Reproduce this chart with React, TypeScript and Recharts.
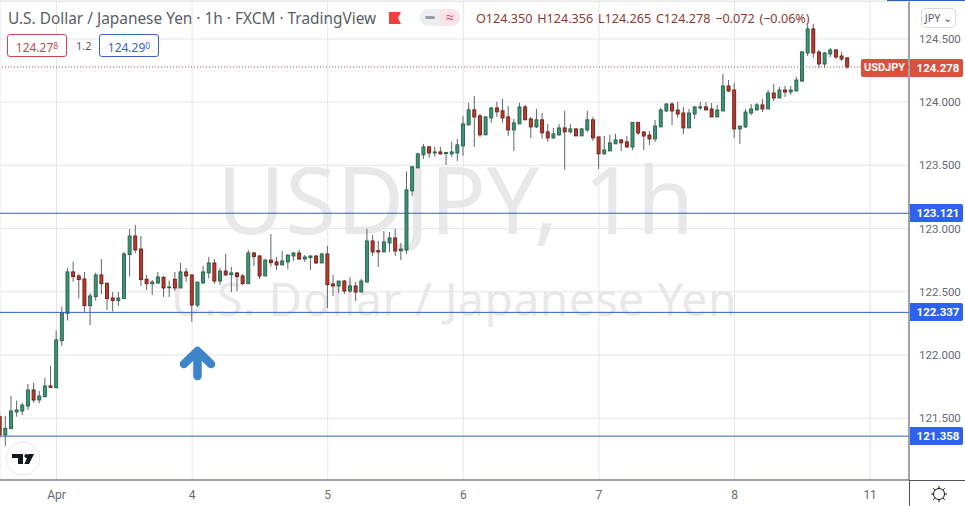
import React from "react";
import { ComposedChart, Bar, XAxis, YAxis, CartesianGrid, ReferenceLine } from "recharts";

const FIRST_HOUR = -10;
const opens = [121.512,121.367,121.417,121.549,121.557,121.596,121.723,121.644,121.670,121.755,
121.741,122.113,122.330,122.657,122.625,122.601,122.390,122.461,122.633,122.567,
122.451,122.430,122.446,122.794,122.941,122.838,122.599,122.564,122.569,122.614,
122.533,122.599,122.530,122.657,122.633,122.395,122.569,122.649,122.728,122.585,
122.664,122.635,122.649,122.625,122.564,122.807,122.783,122.625,122.751,122.736,
122.712,122.736,122.783,122.807,122.759,122.770,122.783,122.728,122.799,122.562,
122.546,122.585,122.506,122.546,122.498,122.577,122.902,122.825,122.815,122.886,
122.926,122.825,122.831,123.298,123.480,123.583,123.646,123.598,123.606,123.593,
123.591,123.598,123.654,123.820,123.939,123.891,123.741,123.875,123.954,123.931,
123.883,123.780,123.828,123.962,123.867,123.804,123.860,123.765,123.717,123.741,
123.796,123.765,123.788,123.733,123.780,123.860,123.725,123.591,123.614,123.670,
123.701,123.686,123.645,123.840,123.764,123.740,123.709,123.804,123.930,123.985,
123.938,123.914,123.796,123.906,123.954,123.962,123.946,123.883,123.930,124.128,
124.096,123.788,123.804,123.914,123.938,123.978,123.946,124.072,124.033,124.096,
124.080,124.088,124.167,124.389,124.579,124.397,124.302,124.381,124.413,124.365,124.350];
const closes = [121.367,121.420,121.557,121.565,121.604,121.723,121.644,121.676,121.755,121.744,
122.119,122.335,122.657,122.620,122.596,122.390,122.467,122.633,122.564,122.446,
122.430,122.451,122.799,122.941,122.831,122.596,122.564,122.577,122.617,122.530,
122.538,122.530,122.657,122.625,122.395,122.577,122.657,122.728,122.585,122.664,
122.633,122.649,122.620,122.564,122.807,122.778,122.625,122.751,122.730,122.712,
122.744,122.791,122.807,122.759,122.775,122.783,122.728,122.799,122.556,122.546,
122.585,122.506,122.546,122.498,122.585,122.902,122.815,122.815,122.894,122.926,
122.823,122.838,123.306,123.488,123.591,123.646,123.598,123.606,123.591,123.601,
123.606,123.662,123.828,123.939,123.883,123.741,123.883,123.954,123.923,123.875,
123.780,123.836,123.962,123.860,123.804,123.860,123.757,123.717,123.749,123.796,
123.765,123.788,123.733,123.788,123.860,123.717,123.591,123.622,123.678,123.701,
123.678,123.646,123.840,123.756,123.732,123.709,123.811,123.938,123.985,123.930,
123.906,123.796,123.914,123.962,123.962,123.938,123.883,123.938,124.128,124.088,
123.788,123.811,123.922,123.946,123.978,123.946,124.072,124.033,124.096,124.080,
124.096,124.175,124.397,124.579,124.389,124.302,124.389,124.413,124.357,124.341,124.278];
const highs = [121.550,121.517,121.676,121.639,121.623,121.770,121.781,121.715,121.821,121.916,
122.192,122.382,122.688,122.738,122.641,122.657,122.488,122.651,122.757,122.572,
122.498,122.498,122.815,122.997,123.028,122.941,122.633,122.593,122.657,122.625,
122.588,122.657,122.728,122.688,122.633,122.577,122.704,122.775,122.759,122.688,
122.799,122.696,122.657,122.641,122.831,122.815,122.791,122.757,122.957,122.775,
122.823,122.791,122.815,122.831,122.791,122.791,122.791,122.807,122.862,122.633,
122.585,122.593,122.617,122.577,122.601,122.997,122.949,122.902,122.981,122.973,
122.997,122.886,123.451,123.496,123.598,123.670,123.654,123.646,123.646,123.606,
123.686,123.709,123.891,123.994,124.049,123.907,123.891,123.962,124.002,124.026,
123.970,123.867,123.994,123.978,123.883,123.947,123.915,123.828,123.796,123.828,
123.931,123.828,123.796,123.796,123.931,123.883,123.725,123.733,123.741,123.749,
123.709,123.733,123.840,123.840,123.772,123.772,123.859,123.954,123.993,124.001,
124.001,123.962,123.946,123.970,124.001,124.001,123.993,123.978,124.223,124.175,
124.152,123.811,123.946,123.985,123.993,124.025,124.096,124.144,124.120,124.128,
124.128,124.199,124.405,124.610,124.618,124.413,124.397,124.428,124.421,124.397,124.356];
const lows = [121.340,121.280,121.417,121.512,121.525,121.565,121.623,121.618,121.665,121.741,
121.741,122.071,122.272,122.580,122.446,122.343,122.237,122.430,122.482,122.356,
122.343,122.388,122.446,122.620,122.804,122.546,122.514,122.475,122.562,122.459,
122.459,122.506,122.530,122.580,122.264,122.380,122.564,122.606,122.562,122.554,
122.625,122.498,122.506,122.554,122.564,122.704,122.601,122.625,122.699,122.672,
122.712,122.680,122.744,122.751,122.736,122.672,122.720,122.728,122.372,122.467,
122.490,122.482,122.490,122.427,122.498,122.572,122.783,122.696,122.815,122.815,
122.783,122.751,122.799,123.258,123.480,123.551,123.559,123.567,123.583,123.504,
123.567,123.535,123.575,123.820,123.646,123.725,123.741,123.836,123.883,123.836,
123.733,123.614,123.828,123.860,123.717,123.796,123.709,123.686,123.709,123.733,
123.464,123.749,123.733,123.733,123.765,123.693,123.472,123.583,123.614,123.670,
123.614,123.638,123.622,123.740,123.622,123.661,123.685,123.804,123.922,123.819,
123.875,123.748,123.796,123.867,123.938,123.938,123.883,123.883,123.930,124.080,
123.716,123.669,123.796,123.898,123.938,123.922,123.946,124.009,124.033,124.041,
124.057,124.088,124.160,124.365,124.349,124.270,124.270,124.357,124.341,124.326,124.265];

const priceTicks = [121.5, 122, 122.5, 123, 123.5, 124, 124.5];
const hourTicks = [0, 24, 48, 72, 96, 120, 144];
const hourLabels = ["Apr", "4", "5", "6", "7", "8", "11"];
const levels = [123.121, 122.337, 121.358];
const lastPrice = 124.278;

const rows = opens.map((open, k) => ({
  hour: k + FIRST_HOUR,
  open,
  close: closes[k],
  high: highs[k],
  low: lows[k],
  range: [lows[k], highs[k]],
}));

const FONT = "'Noto Sans', sans-serif";
const AXIS_FONT = "Roboto, sans-serif";
const UP = "#3d9470", UP_EDGE = "#24604a", DOWN = "#b93a2c", DOWN_EDGE = "#6a1d14", WICK = "#61646c";

function Candle(props: any) {
  const { x, y, width, height, payload } = props;
  const { open, close, high, low } = payload;
  const perUnit = height / (high - low);
  const cx = x + width / 2;
  const toY = (v: number) => y + (high - v) * perUnit;
  const top = toY(Math.max(open, close));
  const bot = toY(Math.min(open, close));
  const up = close >= open;
  return (
    <g>
      <line x1={cx} x2={cx} y1={y} y2={y + height} stroke={WICK} strokeWidth={1} />
      <rect x={cx - 1.5} y={top} width={3} height={Math.max(bot - top, 0.8)} fill={up ? UP : DOWN} stroke={up ? UP_EDGE : DOWN_EDGE} strokeWidth={0.9} />
    </g>
  );
}

function Abs({ style, children }: any) {
  return <div style={{ position: "absolute", whiteSpace: "nowrap", fontFamily: FONT, ...style }}>{children}</div>;
}

function PriceBadge({ y, text, bg }: any) {
  return (
    <Abs style={{ left: 910, top: y - 9, width: 53, height: 18, lineHeight: "18px", paddingLeft: 3, boxSizing: "border-box", background: bg, color: "#fff", fontWeight: 700, fontSize: 11.5, fontFamily: AXIS_FONT, textAlign: "center", borderRadius: "0 2px 2px 0", zIndex: 5 }}>{text}</Abs>
  );
}

function PriceBox({ left, color, main, sup }: any) {
  return (
    <Abs style={{ left, top: 34, width: 60, height: 23, boxSizing: "border-box", border: `1px solid ${color}`, borderRadius: 3, color, fontSize: 12, lineHeight: "22px", textAlign: "center", zIndex: 5, background: "#fff" }}>
      {main}<span style={{ fontSize: 8.5, verticalAlign: 3 }}>{sup}</span>
    </Abs>
  );
}

export default function App() {
  return (
    <div style={{ position: "absolute", left: 0, top: 0, width: 965, height: 506, background: "#fff", overflow: "hidden" }}>
      {/* watermark */}
      <Abs style={{ left: 217, top: 138, fontSize: 93, lineHeight: "120px", color: "#e8e8e8", letterSpacing: 0.2 }}>USDJPY, 1h</Abs>
      <Abs style={{ left: 171, top: 268, fontSize: 46, lineHeight: "60px", color: "#e8e8e8", letterSpacing: 0.6 }}>U.S. Dollar / Japanese Yen</Abs>

      <div style={{ position: "absolute", left: 0, top: 0 }}>
        <ComposedChart width={965} height={506} data={rows} margin={{ top: 1, right: 0, bottom: 0, left: 0 }}>
          <CartesianGrid stroke="#e4e6ea" strokeWidth={1} />
          <XAxis
            dataKey="hour"
            type="number"
            domain={[FIRST_HOUR, 150.88]}
            allowDataOverflow
            ticks={hourTicks}
            tickFormatter={(v: number) => hourLabels[hourTicks.indexOf(v)]}
            height={26}
            tickLine={false}
            axisLine={{ stroke: "#50535e" }}
            tick={{ fontSize: 12, fill: "#666a72", fontFamily: AXIS_FONT }}
            tickMargin={4}
          />
          <YAxis
            orientation="right"
            type="number"
            domain={[121.011, 124.8]}
            allowDataOverflow
            ticks={priceTicks}
            tickFormatter={(v: number) => v.toFixed(3)}
            width={56}
            tickLine={false}
            axisLine={{ stroke: "#50535e" }}
            tick={{ fontSize: 11.5, fill: "#666a72", fontFamily: AXIS_FONT }}
            tickMargin={4}
          />
          <ReferenceLine y={lastPrice} stroke="#b5564a" strokeDasharray="1 2" />
          {levels.map((v) => (
            <ReferenceLine key={v} y={v} stroke="#2f5fc0" strokeWidth={1} />
          ))}
          <Bar dataKey="range" barSize={5} isAnimationActive={false} shape={<Candle />} />
        </ComposedChart>
      </div>

      {/* chrome */}
      <div style={{ position: "absolute", left: 909, top: 480, width: 1, height: 26, background: "#50535e" }} />
      <div style={{ position: "absolute", left: 909, top: 480, width: 56, height: 1, background: "#50535e" }} />
      <div style={{ position: "absolute", left: 0, top: 1, width: 909, height: 1, background: "#e4e6ea" }} />
      <div style={{ position: "absolute", left: 887, top: 0, width: 78, height: 1, background: "#2f5fc0" }} />

      <Abs style={{ left: 8, top: 9, fontSize: 15.42, lineHeight: "20px", color: "#5a5d66", zIndex: 5 }}>
        U.S. Dollar / Japanese Yen · 1h · FXCM · TradingView
      </Abs>
      <svg style={{ position: "absolute", left: 385, top: 8, zIndex: 5, overflow: "visible" }} width={80} height={22}>
        <path d="M4 4 H16 L13 10 L16 16 H4 Z" fill="#f23e3e" />
        <rect x={35} y={1} width={40} height={17} rx={8.5} fill="#eceef1" />
        <path d="M55 1 H66.5 A8.5 8.5 0 0 1 66.5 18 H55 Z" fill="#fbe3ea" />
        <rect x={40} y={8} width={10} height={3} rx={1.5} fill="#9a9ca3" />
      </svg>
      <Abs style={{ left: 443, top: 8, width: 14, height: 19, lineHeight: "18px", fontSize: 14, textAlign: "center", color: "#d9467a", zIndex: 6 }}>≈</Abs>
      <Abs style={{ left: 476, top: 9, fontSize: 12.6, lineHeight: "20px", color: "#8c3a30", zIndex: 5, wordSpacing: 1.5 }}>
        O124.350 H124.356 L124.265 C124.278 −0.072 (−0.06%)
      </Abs>
      <PriceBox left={7} color="#cf4650" main="124.27" sup="8" />
      <Abs style={{ left: 76, top: 38, fontSize: 11, lineHeight: "16px", color: "#5a5d66", zIndex: 5 }}>1.2</Abs>
      <PriceBox left={99} color="#3a62c8" main="124.29" sup="0" />

      <Abs style={{ left: 921, top: 8, width: 35, height: 20, boxSizing: "border-box", border: "1px solid #d8dae0", borderRadius: 4, fontSize: 11, lineHeight: "18px", color: "#5a5d66", textAlign: "center", background: "#fff", zIndex: 5 }}>JPY ⌄</Abs>

      <Abs style={{ left: 861, top: 59, width: 47, height: 18, lineHeight: "18px", background: "#d9503f", color: "#fff", fontWeight: 700, fontSize: 11, fontFamily: AXIS_FONT, textAlign: "center", borderRadius: "2px 0 0 2px", zIndex: 5 }}>USDJPY</Abs>
      <PriceBadge y={68} text={lastPrice.toFixed(3)} bg="#d9503f" />
      {levels.map((v, k) => (
        <PriceBadge key={v} y={[213, 312, 436][k]} text={v.toFixed(3)} bg="#2d62f0" />
      ))}

      {/* arrow annotation */}
      <svg style={{ position: "absolute", left: 170, top: 335, zIndex: 4 }} width={60} height={55}>
        <path d="M27.5 41 V16 M14 29 L27.5 16 L41 29" fill="none" stroke="#3d84c8" strokeWidth={8.5} strokeLinecap="round" strokeLinejoin="round" />
      </svg>

      {/* logo */}
      <svg style={{ position: "absolute", left: 5, top: 441, zIndex: 4 }} width={36} height={36}>
        <circle cx={18} cy={17.5} r={16.5} fill="#fff" stroke="#e8e9ec" strokeWidth={1} />
        <path d="M7 13 H18 V23 H13 V17 H7 Z M23.5 13 H29 L24 23 H19.5 Z" fill="#131722" />
        <circle cx={21.5} cy={15} r={2.1} fill="#131722" />
      </svg>

      {/* settings gear */}
      <svg style={{ position: "absolute", left: 928, top: 483, zIndex: 4 }} width={22} height={22}>
        <circle cx={11} cy={11} r={5.5} fill="none" stroke="#131722" strokeWidth={1} />
        <path d="M11 3 V5.5 M11 16.5 V19 M3 11 H5.5 M16.5 11 H19 M5.3 5.3 L7 7 M15 15 L16.7 16.7 M5.3 16.7 L7 15 M15 7 L16.7 5.3" stroke="#131722" strokeWidth={1} />
      </svg>
    </div>
  );
}
